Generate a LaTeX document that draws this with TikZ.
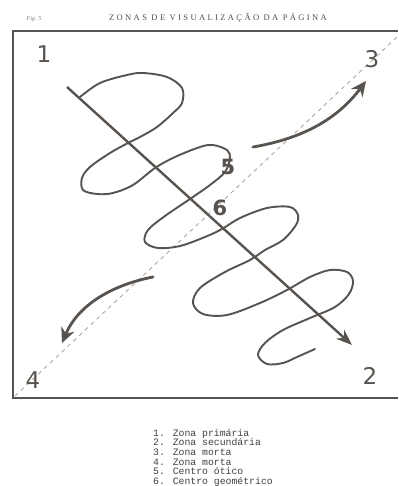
\documentclass[tikz,border=0pt]{standalone}
\usepackage{fontspec}
\setmainfont{Liberation Serif}
\newfontfamily\digitfont{DejaVu Sans}
\newfontfamily\legendfont{Liberation Mono}
\newfontfamily\titlefont{Liberation Serif}[LetterSpace=28]
\usetikzlibrary{arrows.meta}
\definecolor{ink}{RGB}{88,83,78}
\definecolor{dash}{RGB}{170,168,165}
\definecolor{txt}{RGB}{95,92,90}
\begin{document}
\begin{tikzpicture}[x=1pt,y=-1pt,
  corner/.style={font=\digitfont\fontsize{23}{23}\selectfont, text=ink, inner sep=0pt},
  centre/.style={font=\digitfont\bfseries\fontsize{21}{21}\selectfont, text=ink, inner sep=0pt},
  frame/.style={draw=ink, line width=2.6pt},
  squiggle/.style={draw=ink, line width=1.9pt, line cap=round, line join=round},
  mainarrow/.style={draw=ink, line width=2.4pt, -{Stealth[length=16pt,width=12pt]}},
  curvearrow/.style={draw=ink, line width=2.8pt, line cap=round, -{Stealth[length=15pt,width=14pt]}},
  diag/.style={draw=dash, line width=0.9pt, dash pattern=on 4pt off 4pt}]
\useasboundingbox (0,0) rectangle (398,486);
\fill[white] (0,0) rectangle (398,486);

% header
\node[font=\itshape\fontsize{6}{7}\selectfont, text=txt!80] (fig) at (34,19) {Fig. 5};
\node[font=\titlefont\fontsize{8.5}{9}\selectfont, text=txt!85!black] (title) at (218,18) {ZONAS DE VISUALIZAÇÃO DA PÁGINA};

% frame
\draw[frame] (398,31) -- (13,31) -- (13,398) -- (398,398);

% dashed diagonal
\coordinate (d4) at (15,396);
\coordinate (d3) at (397,37);
\draw[diag] (d4) -- (d3);

% squiggle
\draw[squiggle] plot[smooth, tension=0.55] coordinates {
 (80,97) (100,83) (127,75) (143,73) (167,77) (182,88) (182,103) (173,113)
 (157,127) (140,137) (128,143) (110,153) (90,167) (82,178) (83,190) (97,194)
 (113,193) (133,185) (155,168) (175,157) (200,147) (213,145) (227,150) (230,158)
 (225,172) (210,185) (190,199) (165,216) (148,230) (145,242) (158,248) (180,246)
 (205,237) (222,229) (240,218) (267,208) (290,207) (298,215) (296,225) (283,240)
 (265,250) (250,260) (225,272) (200,288) (193,303) (203,314) (227,315) (260,303)
 (287,290) (310,277) (330,270) (347,272) (353,281) (349,294) (335,307) (310,318)
 (283,330) (265,343) (258,355) (267,364) (283,363) (297,357) (315,349)};

% main diagonal arrow
\coordinate (m1) at (67,87);
\coordinate (m2) at (352,345);
\draw[mainarrow] (m1) -- (m2);

% curved arrows
\coordinate (a3s) at (253,147);
\coordinate (a3e) at (366,81);
\draw[curvearrow] (a3s) .. controls (305,138) and (338,118) .. (a3e);
\coordinate (a4s) at (153,277);
\coordinate (a4e) at (62,343);
\draw[curvearrow] (a4s) .. controls (112,285) and (78,305) .. (a4e);

% corner labels
\node[corner] (n1) at (44,54) {1};
\node[corner] (n3) at (372,59) {3};
\node[corner] (n4) at (33,380) {4};
\node[corner] (n2) at (370,376) {2};
\node[centre] (n5) at (228,167) {5};
\node[centre] (n6) at (220,208) {6};

% legend
\node[anchor=north west, align=left, inner sep=0pt, text=txt!70!black,
      font=\legendfont\fontsize{9.8}{9.6}\selectfont] (legend) at (153,429)
 {1. Zona primária\\2. Zona secundária\\3. Zona morta\\4. Zona morta\\5. Centro ótico\\6. Centro geométrico};
\end{tikzpicture}
\end{document}
